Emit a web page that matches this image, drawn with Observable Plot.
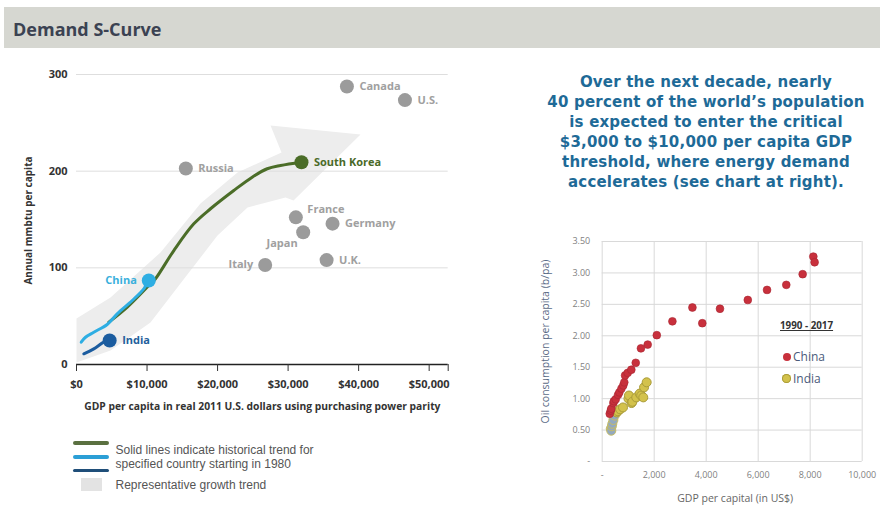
<!DOCTYPE html>
<html>
<head>
<meta charset="utf-8">
<script src="https://cdn.jsdelivr.net/npm/d3@7"></script>
<script src="https://cdn.jsdelivr.net/npm/@observablehq/plot@0.6"></script>
<style>
  body { margin: 0; background: #fff; }
  #page { position: relative; width: 890px; height: 521px; overflow: hidden; font-family: "Open Sans", sans-serif; background: #fff; }
  .abs { position: absolute; }
  #header { left: 4px; top: 7px; width: 876px; height: 41px; background: #d6d7d1; }
  #title { left: 9px; top: 0; line-height: 41px; padding-top: 2px; font-size: 18px; font-weight: 700; color: #3b4252; white-space: nowrap; }
  #blurb { left: 506px; top: 72px; width: 400px; text-align: center; font-family: "DejaVu Sans", sans-serif; font-weight: 700; font-size: 15px; line-height: 20px; letter-spacing: 0.2px; color: #1e6a97; white-space: nowrap; }
  .sw { position: absolute; height: 3.5px; border-radius: 2px; }
  .lt { position: absolute; font-family: "Liberation Sans", Arial, sans-serif; font-size: 12px; line-height: 14px; color: #555; white-space: nowrap; }
  .rl { position: absolute; white-space: nowrap; }
  .rdot { position: absolute; border-radius: 50%; }
</style>
</head>
<body>
<div id="page">
  <div id="header" class="abs"><div id="title" class="abs">Demand S-Curve</div></div>
  <div id="leftChart" class="abs" style="left:0;top:60px;"></div>
  <div id="rightChart" class="abs" style="left:530px;top:230px;"></div>
  <div id="blurb" class="abs"></div>
  <div id="leftLegend" class="abs" style="left:0;top:0;"></div>
  <div id="rightLegend" class="abs" style="left:0;top:0;"></div>
</div>
<script>
// ---------- Left chart data (Demand S-Curve) ----------
const countries = ["Canada", "U.S.", "Russia", "South Korea", "France", "Germany", "Japan", "Italy", "U.K.", "China", "India"];
const countryGdp = [38340, 46570, 15500, 31900, 31100, 36300, 32140, 26750, 35460, 10250, 4700];
const countryEnergy = [287.6, 273.5, 202.8, 209.3, 152.2, 145.7, 136.8, 103, 108, 86.9, 24.8];

const koreaGdp = [4590, 7200, 10490, 11200, 13800, 16630, 19000, 22300, 24910, 27040, 28930, 31900];
const koreaEnergy = [43.8, 59.3, 83.5, 88.7, 117.9, 145.5, 161.1, 180, 193.8, 202.5, 205.9, 209.3];
const chinaGdp = [670, 1280, 2450, 4350, 5770, 7900, 9540, 10250];
const chinaEnergy = [23.1, 28.2, 33.4, 41.4, 52.4, 66.2, 78.3, 86.9];
const indiaGdp = [1040, 2450, 3870, 4700];
const indiaEnergy = [11.1, 16.2, 23.1, 24.8];

// representative growth trend (arrow outline)
const trendGdp = [0, 4820, 11910, 17580, 22830, 29070, 27510, 40270, 30770, 29640, 24250, 19990, 14740, 10490, 4820, 0];
const trendEnergy = [47.6, 69.3, 115.9, 166.6, 198.6, 219.3, 247.2, 237.9, 169.7, 172.8, 162.4, 133.4, 83.8, 43.4, 14.5, 2.1];

const leftXTicks = [0, 10000, 20000, 30000, 40000, 50000];
const leftYTicks = [0, 100, 200, 300];

// ---------- Right chart data (oil consumption vs GDP, 1990-2017) ----------
const chinaOilGdp = [290, 330, 350, 430, 450, 520, 610, 660, 740, 810, 850, 880, 980, 1120, 1290, 1490, 1750, 2100, 2700, 3470, 3850, 4530, 5600, 6340, 7080, 7710, 8120, 8170];
const chinaOil = [0.76, 0.81, 0.84, 0.93, 0.96, 0.99, 1.06, 1.10, 1.16, 1.21, 1.26, 1.37, 1.41, 1.46, 1.57, 1.80, 1.86, 2.01, 2.23, 2.45, 2.20, 2.43, 2.57, 2.73, 2.81, 2.98, 3.26, 3.17];
const indiaOilGdp = [560, 600, 690, 800, 1010, 1030, 1130, 1160, 1310, 1440, 1500, 1580, 1610, 1710];
const indiaOil = [0.78, 0.80, 0.83, 0.86, 1.00, 1.05, 0.93, 0.95, 1.02, 1.08, 1.05, 1.02, 1.18, 1.26];
const indiaEarlyGdp = [330, 350, 370, 390, 430, 480];
const indiaEarlyOil = [0.52, 0.49, 0.56, 0.60, 0.66, 0.73];

const rightXTicks = [0, 2000, 4000, 6000, 8000, 10000];
const rightYTicks = [0, 0.5, 1, 1.5, 2, 2.5, 3, 3.5];

const blurbLines = [
  "Over the next decade, nearly",
  "40 percent of the world\u2019s population",
  "is expected to enter the critical",
  "$3,000 to $10,000 per capita GDP",
  "threshold, where energy demand",
  "accelerates (see chart at right)."
];

// ---------- build tables ----------
const zip = (xs, ys) => xs.map((x, i) => ({x, y: ys[i]}));
const countryTable = countries.map((name, i) => ({name, x: countryGdp[i], y: countryEnergy[i]}));
const trend = zip(trendGdp, trendEnergy);
const korea = zip(koreaGdp, koreaEnergy);
const chinaLine = zip(chinaGdp, chinaEnergy);
const indiaLine = zip(indiaGdp, indiaEnergy);

const GREEN = "#4b6d28", LBLUE = "#2eaee3", DBLUE = "#1b5c9f", GRAY = "#9b9b9b";
const dotColor = n => n === "South Korea" ? GREEN : n === "China" ? LBLUE : n === "India" ? DBLUE : GRAY;
const labelColor = n => n === "South Korea" ? "#4a6a28" : n === "China" ? "#3ab0dc" : n === "India" ? "#235f9c" : "#a0a0a0";
const placeOf = n => ({"Italy": "left", "China": "left", "France": "above", "Japan": "below"})[n] || "right";

const font = "'Open Sans', sans-serif";

const left = Plot.plot({
  width: 460, height: 360,
  marginLeft: 76, marginRight: 12.3, marginTop: 14, marginBottom: 56,
  x: {domain: [0, 52700]},
  y: {domain: [0, 300]},
  color: {type: "identity"},
  style: {fontFamily: font, fontSize: "11px", fontWeight: 700, background: "transparent", overflow: "visible"},
  marks: [
    Plot.line(trend, {x: "x", y: "y", fill: "#ededed", stroke: "none"}),
    Plot.gridY([100, 200, 300], {stroke: "#dedede", strokeOpacity: 1, strokeWidth: 1}),
    Plot.ruleY([0], {stroke: "#222", strokeWidth: 1.5}),
    Plot.axisX(leftXTicks, {tickSize: 7, tickPadding: 9, tickFormat: d => "$" + d3.format(",")(d), color: "#333", label: null}),
    Plot.axisX([52700], {tickSize: 7, tickFormat: () => "", color: "#333", label: null}),
    Plot.axisY(leftYTicks, {tickSize: 0, tickPadding: 9, color: "#333", label: null}),
    Plot.line(korea, {x: "x", y: "y", stroke: GREEN, strokeWidth: 3, curve: "catmull-rom"}),
    Plot.line(chinaLine, {x: "x", y: "y", stroke: LBLUE, strokeWidth: 3, curve: "catmull-rom"}),
    Plot.line(indiaLine, {x: "x", y: "y", stroke: DBLUE, strokeWidth: 3, curve: "catmull-rom"}),
    Plot.dot(countryTable, {x: "x", y: "y", r: 7, fill: d => dotColor(d.name), stroke: "none"}),
    Plot.text(countryTable.filter(d => placeOf(d.name) === "right"), {x: "x", y: "y", text: "name", dx: 12.5, textAnchor: "start", fill: d => labelColor(d.name), fontSize: 11}),
    Plot.text(countryTable.filter(d => placeOf(d.name) === "left"), {x: "x", y: "y", text: "name", dx: -12, textAnchor: "end", fill: d => labelColor(d.name), fontSize: 11}),
    Plot.text(countryTable.filter(d => placeOf(d.name) === "above"), {x: "x", y: "y", text: "name", dx: 11.5, dy: -8, textAnchor: "start", fill: d => labelColor(d.name), fontSize: 11}),
    Plot.text(countryTable.filter(d => placeOf(d.name) === "below"), {x: "x", y: "y", text: "name", dx: -5.5, dy: 11, textAnchor: "end", fill: d => labelColor(d.name), fontSize: 11}),
    Plot.text(["GDP per capita in real 2011 U.S. dollars using purchasing power parity"], {text: d => d, frameAnchor: "bottom", dy: 45, fill: "#333", fontSize: 10.3}),
    Plot.text(["Annual mmbtu per capita"], {text: d => d, frameAnchor: "left", textAnchor: "middle", rotate: -90, dx: -47.7, dy: 1, fill: "#333", fontSize: 10})
  ]
});
document.getElementById("leftChart").appendChild(left);

const fmtX = d => d === 0 ? "-" : d3.format(",")(d);
const fmtY = d => d === 0 ? "-" : d3.format(".2f")(d);

const right = Plot.plot({
  width: 350, height: 290,
  marginLeft: 71.7, marginRight: 18.3, marginTop: 11, marginBottom: 59,
  x: {domain: [0, 10000]},
  y: {domain: [0, 3.5]},
  style: {fontFamily: font, fontSize: "9px", background: "transparent", overflow: "visible"},
  marks: [
    Plot.gridX(rightXTicks, {stroke: "#d9d9d9", strokeOpacity: 1, strokeWidth: 1}),
    Plot.gridY(rightYTicks, {stroke: "#d9d9d9", strokeOpacity: 1, strokeWidth: 1}),
    Plot.axisX(rightXTicks, {tickSize: 0, tickPadding: 10.5, tickFormat: fmtX, color: "#7f7f7f", label: null}),
    Plot.axisY(rightYTicks, {tickSize: 0, tickPadding: 12, tickFormat: fmtY, color: "#7f7f7f", label: null}),
    Plot.dot(zip(indiaEarlyGdp, indiaEarlyOil), {x: "x", y: "y", r: 4.5, fill: "#93a9c0", stroke: "#c8bd62", strokeWidth: 1}),
    Plot.dot(zip(indiaOilGdp, indiaOil), {x: "x", y: "y", r: 4.5, fill: "#d3c24c", stroke: "#aa9c3a", strokeWidth: 1}),
    Plot.dot(zip(chinaOilGdp, chinaOil), {x: "x", y: "y", r: 3.9, fill: "#c8303c", stroke: "#a82733", strokeWidth: 0.6}),
    Plot.text(["GDP per capital (in US$)"], {text: d => d, frameAnchor: "bottom", dx: 3, dy: 40.7, fill: "#666", fontSize: 10.5}),
    Plot.text(["Oil consumption per capita (b/pa)"], {text: d => d, frameAnchor: "left", textAnchor: "middle", rotate: -90, dx: -56.7, dy: -10, fill: "#5b6b86", fontSize: 10.5})
  ]
});
document.getElementById("rightChart").appendChild(right);

// blurb text
document.getElementById("blurb").innerHTML = blurbLines.map(l => `<div>${l}</div>`).join("");

// left legend
document.getElementById("leftLegend").innerHTML = `
  <div class="sw" style="left:73px;top:441px;width:36px;background:#5a7040"></div>
  <div class="sw" style="left:73px;top:455px;width:36px;background:#2b9fd6"></div>
  <div class="sw" style="left:73px;top:468.5px;width:36px;background:#1f4e79"></div>
  <div class="abs" style="left:81px;top:478px;width:21px;height:13px;background:#e3e3e3"></div>
  <div class="lt" style="left:115.5px;top:442.5px">Solid lines indicate historical trend for</div>
  <div class="lt" style="left:115.5px;top:456.5px">specified country starting in 1980</div>
  <div class="lt" style="left:115.5px;top:477.5px">Representative growth trend</div>
`;

// right legend
document.getElementById("rightLegend").innerHTML = `
  <div class="rl" style="left:780px;top:319px;font-size:9.8px;font-weight:700;color:#333;text-decoration:underline;">1990 - 2017</div>
  <div class="rdot" style="left:782.7px;top:352.7px;width:8px;height:8px;background:#c8303c"></div>
  <div class="rl" style="left:793px;top:348px;font-size:12px;color:#4a5a7a;">China</div>
  <div class="rdot" style="left:781.7px;top:374px;width:9px;height:9px;background:#d3c24c;box-shadow:0 0 0 1px #aa9c3a inset"></div>
  <div class="rl" style="left:793px;top:370px;font-size:12px;color:#4a5a7a;">India</div>
`;
</script>
</body>
</html>
